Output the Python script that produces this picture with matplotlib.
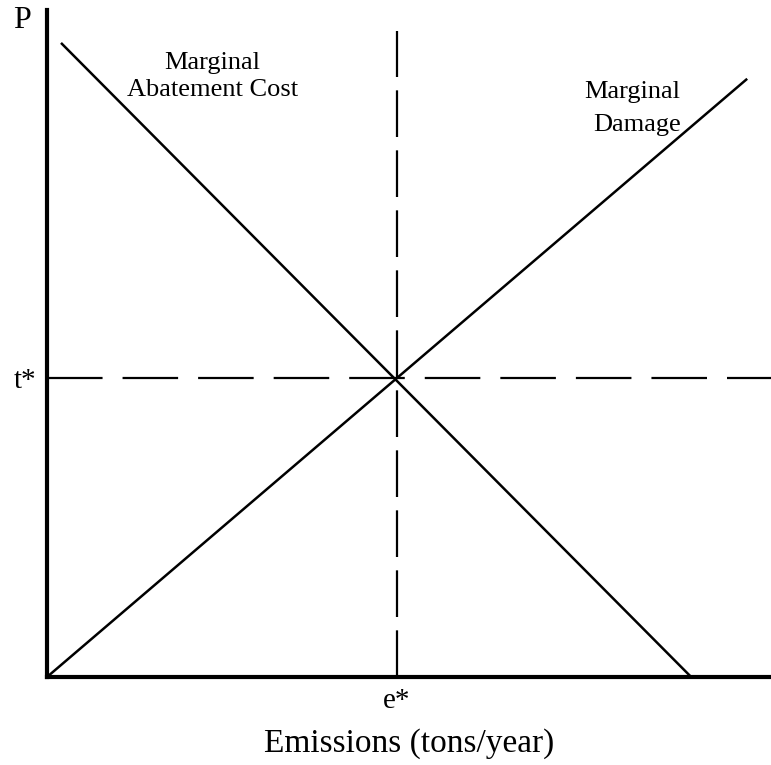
import matplotlib
matplotlib.use("Agg")
import matplotlib.pyplot as plt

# curve end points (abstract units, equilibrium at e* = t* = 5)
mac_x = [0.2, 9.2]
mac_y = [10.6, 0.0]
md_x = [0.0, 10.0]
md_y = [0.0, 10.0]
e_star = 5.0
t_star = 5.0
vline_top = 10.8

plt.rcParams["font.family"] = ["Liberation Serif", "DejaVu Serif"]

fig = plt.figure(figsize=(7.71, 7.65), dpi=100)
ax = fig.add_axes([47 / 771, 88 / 765, 724 / 771, 667 / 765])
ax.set_xlim(0, 10.34)
ax.set_ylim(0, 11.15)

ax.plot(mac_x, mac_y, color="black", lw=1.8, solid_capstyle="butt")
ax.plot(md_x, md_y, color="black", lw=1.8, solid_capstyle="butt")

ax.plot([e_star, e_star], [0, vline_top], color="black", lw=1.6, linestyle=(0, (21, 6)))
ax.plot([0, 10.34], [t_star, t_star], color="black", lw=1.6, linestyle=(0, (25, 9)))

# curve labels, one text per line
labels = [
    (2.36, 10.27, "Marginal"),
    (2.36, 9.82, "Abatement Cost"),
    (8.36, 9.78, "Marginal"),
    (8.43, 9.23, "Damage"),
]
for x, y, s in labels:
    ax.text(x, y, s, ha="center", va="center", fontsize=19)

for side in ["top", "right"]:
    ax.spines[side].set_visible(False)
for side in ["left", "bottom"]:
    ax.spines[side].set_linewidth(3)

ax.set_xticks([e_star])
ax.set_xticklabels(["e*"], fontsize=21)
ax.set_yticks([t_star])
ax.set_yticklabels(["t*"], fontsize=21)
ax.tick_params(length=0, pad=8)

ax.set_xlabel("Emissions (tons/year)", fontsize=24, labelpad=10)
fig.text(22 / 771, 1 - 20 / 765, "P", ha="center", va="center", fontsize=23)

fig.savefig("out.png", dpi=100)
